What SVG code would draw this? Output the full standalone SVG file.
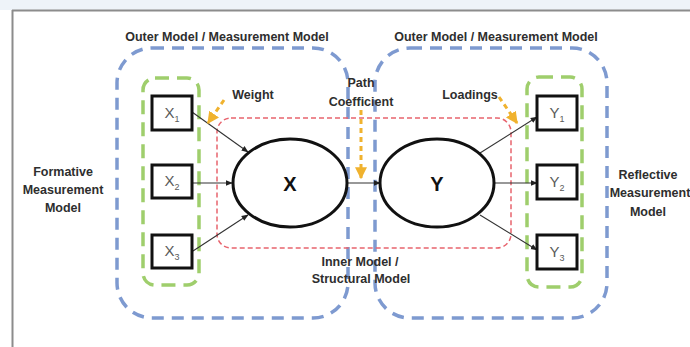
<svg xmlns="http://www.w3.org/2000/svg" width="690" height="347" viewBox="0 0 690 347">
  <defs>
    <marker id="head" viewBox="0 0 10 10" refX="9" refY="5" markerWidth="7" markerHeight="7" markerUnits="userSpaceOnUse" orient="auto">
      <path d="M0,1 L10,5 L0,9 Z" fill="#222"/>
    </marker>
    <marker id="headY" viewBox="0 0 10 10" refX="9" refY="5" markerWidth="4" markerHeight="4" orient="auto">
      <path d="M0,0 L10,5 L0,10 Z" fill="#f0b22e"/>
    </marker>
  </defs>
  <style>
    .lbl { font-family: "Liberation Sans", Arial, sans-serif; font-weight: bold; font-size: 12.5px; fill: #2e2e2e; text-anchor: middle; }
    .blue { fill: none; stroke: #7e9ad0; stroke-width: 3.5; stroke-dasharray: 12 8; }
    .green { fill: none; stroke: #9fce6c; stroke-width: 3.5; stroke-dasharray: 14 8; }
    .red { fill: none; stroke: #e8646e; stroke-width: 1.5; stroke-dasharray: 5 3; }
    .box { fill: #fff; stroke: #111; stroke-width: 3; }
    .ind { font-family: "Liberation Sans", Arial, sans-serif; font-size: 15px; fill: #5a5a5a; text-anchor: middle; }
    .sub { font-size: 9px; }
    .lat { fill: #fff; stroke: #111; stroke-width: 3; }
    .latlbl { font-family: "Liberation Sans", Arial, sans-serif; font-weight: bold; font-size: 20px; fill: #111; text-anchor: middle; }
    .edge { fill: none; stroke: #333; stroke-width: 1.1; marker-end: url(#head); }
    .hint { fill: none; stroke: #f0b22e; stroke-width: 3; stroke-dasharray: 5 4; marker-end: url(#headY); }
  </style>

  <!-- page frame -->
  <rect x="0" y="0" width="690" height="10" fill="#eef3f9"/>
  <line x1="12" y1="10.5" x2="690" y2="10.5" stroke="#8c8c8c" stroke-width="2"/>
  <line x1="12.5" y1="10" x2="12.5" y2="347" stroke="#8c8c8c" stroke-width="2"/>

  <!-- grouping regions -->
  <g id="outer-left">
    <rect class="blue" x="117" y="48" width="231" height="270" rx="35"/>
    <text class="lbl" x="227" y="41">Outer Model / Measurement Model</text>
  </g>
  <g id="outer-right">
    <rect class="blue" x="375" y="48" width="232" height="270" rx="35"/>
    <text class="lbl" x="496" y="41">Outer Model / Measurement Model</text>
  </g>
  <g id="formative-group">
    <rect class="green" x="143" y="78" width="56" height="207" rx="12"/>
    <text class="lbl" x="63" y="176">Formative</text>
    <text class="lbl" x="63" y="194">Measurement</text>
    <text class="lbl" x="63" y="212">Model</text>
  </g>
  <g id="reflective-group">
    <rect class="green" x="527" y="77" width="55" height="210" rx="12"/>
    <text class="lbl" x="648" y="179">Reflective</text>
    <text class="lbl" x="650" y="197">Measurement</text>
    <text class="lbl" x="648" y="216">Model</text>
  </g>
  <g id="inner-model">
    <rect class="red" x="217" y="118" width="294" height="130" rx="14"/>
    <text class="lbl" x="360" y="266">Inner Model /</text>
    <text class="lbl" x="361" y="283">Structural Model</text>
  </g>

  <!-- connectors -->
  <g id="connectors">
    <line class="edge" x1="192" y1="112" x2="248" y2="152"/>
    <line class="edge" x1="192" y1="183" x2="232" y2="183"/>
    <line class="edge" x1="193" y1="251" x2="248" y2="215"/>
    <line class="edge" x1="347" y1="183" x2="380" y2="183"/>
    <line class="edge" x1="480" y1="153" x2="537" y2="117"/>
    <line class="edge" x1="494" y1="183" x2="537" y2="183"/>
    <line class="edge" x1="480" y1="215" x2="537" y2="250"/>
    <line class="hint" x1="224" y1="100" x2="208" y2="123"/>
    <line class="hint" x1="361" y1="110" x2="361" y2="178"/>
    <line class="hint" x1="499" y1="97" x2="517" y2="123"/>
  </g>

  <!-- annotations -->
  <g id="annotations">
    <text class="lbl" x="253" y="99">Weight</text>
    <text class="lbl" x="361" y="87">Path</text>
    <text class="lbl" x="361" y="106">Coefficient</text>
    <text class="lbl" x="470" y="99">Loadings</text>
  </g>

  <!-- latent variables -->
  <g id="X">
    <ellipse class="lat" cx="290" cy="183" rx="57" ry="44"/>
    <text class="latlbl" x="290" y="191">X</text>
  </g>
  <g id="Y">
    <ellipse class="lat" cx="437" cy="183" rx="57" ry="44"/>
    <text class="latlbl" x="437" y="191">Y</text>
  </g>

  <!-- indicators -->
  <g id="X1">
    <rect class="box" x="152" y="96" width="40" height="34"/>
    <text class="ind" x="172" y="118">X<tspan class="sub" dy="4">1</tspan></text>
  </g>
  <g id="X2">
    <rect class="box" x="152" y="165" width="40" height="33"/>
    <text class="ind" x="172" y="186">X<tspan class="sub" dy="4">2</tspan></text>
  </g>
  <g id="X3">
    <rect class="box" x="152" y="235" width="40" height="33"/>
    <text class="ind" x="172" y="256">X<tspan class="sub" dy="4">3</tspan></text>
  </g>
  <g id="Y1">
    <rect class="box" x="537" y="96" width="40" height="34"/>
    <text class="ind" x="557" y="118">Y<tspan class="sub" dy="4">1</tspan></text>
  </g>
  <g id="Y2">
    <rect class="box" x="537" y="165" width="40" height="34"/>
    <text class="ind" x="557" y="187">Y<tspan class="sub" dy="4">2</tspan></text>
  </g>
  <g id="Y3">
    <rect class="box" x="537" y="235" width="40" height="34"/>
    <text class="ind" x="557" y="257">Y<tspan class="sub" dy="4">3</tspan></text>
  </g>
</svg>
